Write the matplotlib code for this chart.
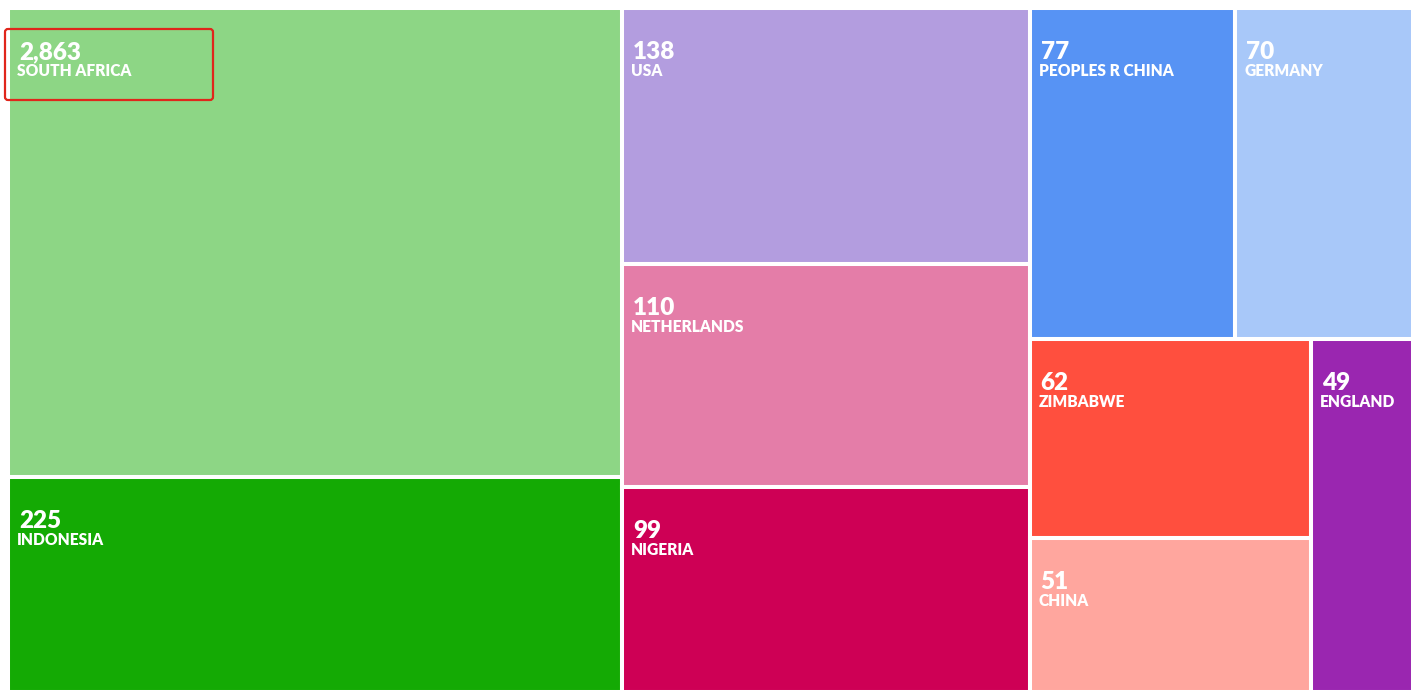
import matplotlib.pyplot as plt
from matplotlib.patches import Rectangle, FancyBboxPatch

countries = ['SOUTH AFRICA', 'INDONESIA', 'USA', 'NETHERLANDS', 'NIGERIA',
             'PEOPLES R CHINA', 'GERMANY', 'ZIMBABWE', 'CHINA', 'ENGLAND']
counts = [2863, 225, 138, 110, 99, 77, 70, 62, 51, 49]
# relative tile areas as they appear in the picture (not proportional to counts)
area_weights = [279, 128, 101, 88, 81, 66, 57, 54, 42, 35]
colors = ['#8DD685', '#14AA04', '#B39DDF', '#E47DA8', '#CE0055',
          '#5793F4', '#A8C8F9', '#FF4F3E', '#FFA69E', '#9A26B0']
# nesting of the tiles: columns, then rows, then columns ...
groups = [[0, 1], [2, 3, 4], [[5, 6], [[7, 8], 9]]]


def weight(node):
    if isinstance(node, list):
        return sum(weight(n) for n in node)
    return area_weights[node]


def layout(node, x, y, w, h, horizontal, out):
    if not isinstance(node, list):
        out[node] = (x, y, w, h)
        return
    tot = weight(node)
    pos = 0
    for child in node:
        f = weight(child) / tot
        if horizontal:
            layout(child, x + pos * w, y, f * w, h, not horizontal, out)
        else:
            layout(child, x, y + pos * h, w, f * h, not horizontal, out)
        pos += f


rects = {}
layout(groups, 8, 8, 1405, 684, True, rects)

fig = plt.figure(figsize=(14.2, 6.97), dpi=100)
ax = fig.add_axes([0, 0, 1, 1])
ax.set_xlim(0, 1420)
ax.set_ylim(697, 0)
ax.axis('off')

for i, (x, y, w, h) in rects.items():
    ax.add_patch(Rectangle((x, y), w, h, facecolor=colors[i],
                           edgecolor='white', linewidth=2.9))
    ax.text(x + 11, y + 51, f'{counts[i]:,}', color='white', fontsize=17.5,
            fontweight='heavy', family='Lato', va='baseline')
    ax.text(x + 9, y + 68, countries[i], color='white', fontsize=11.2,
            fontweight='heavy', family='Lato', va='baseline')

# highlight box around the largest tile label
ax.add_patch(FancyBboxPatch((5, 29), 208, 71, boxstyle='round,pad=0,rounding_size=3',
                            facecolor='none', edgecolor='#E0261B', linewidth=1.6))

fig.savefig('out.png', dpi=100)
